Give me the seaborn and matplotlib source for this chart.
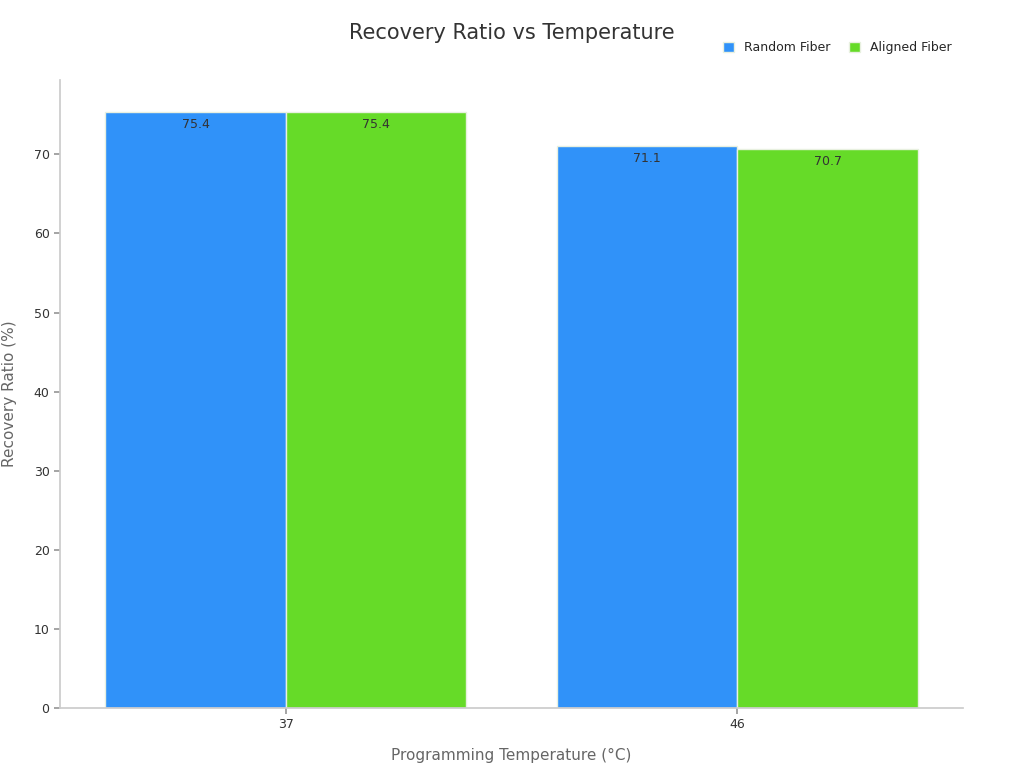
import pandas as pd
import seaborn as sns
import matplotlib.pyplot as plt

temperatures = ["37", "46"]
fiber_types = ["Random Fiber", "Aligned Fiber"]
random_fiber = [75.4, 71.1]
aligned_fiber = [75.4, 70.7]

colors = {"Random Fiber": "#3092F9", "Aligned Fiber": "#66DB28"}

df = pd.DataFrame({
    "Temperature": temperatures * 2,
    "Fiber": [fiber_types[0]] * 2 + [fiber_types[1]] * 2,
    "Ratio": random_fiber + aligned_fiber,
})

sns.set_theme(style="white", font="DejaVu Sans")
fig = plt.figure(figsize=(10.24, 7.68), dpi=100)
ax = fig.add_axes([60 / 1024, 60 / 768, 903 / 1024, 628 / 768])

sns.barplot(data=df, x="Temperature", y="Ratio", hue="Fiber", order=temperatures,
            hue_order=fiber_types, palette=colors, width=0.8,
            edgecolor="#e8f0e0", linewidth=1, saturation=1, ax=ax)

for container in ax.containers:
    ax.bar_label(container, fmt="%.1f", padding=-14, fontsize=9, color="#333333")

ax.set_xlim(-0.5, 1.5)
ax.set_ylim(0, 79.4)
ax.set_yticks(range(0, 80, 10))
ax.set_xlabel("Programming Temperature (°C)", fontsize=11, color="#666666", labelpad=12)
ax.set_ylabel("Recovery Ratio (%)", fontsize=11, color="#666666", labelpad=12)
ax.tick_params(axis="both", labelsize=9, colors="#333333", length=4, color="#999999",
               left=True, bottom=True)
for s in ["top", "right"]:
    ax.spines[s].set_visible(False)
for s in ["left", "bottom"]:
    ax.spines[s].set_color("#cccccc")

fig.suptitle("Recovery Ratio vs Temperature", fontsize=15, color="#333333", y=0.97)
ax.legend(loc="upper right", bbox_to_anchor=(1.0, 1.08), ncol=2, frameon=False,
          fontsize=9, handlelength=0.9, handleheight=0.9, columnspacing=1.5)

fig.savefig("out.png", dpi=100)
